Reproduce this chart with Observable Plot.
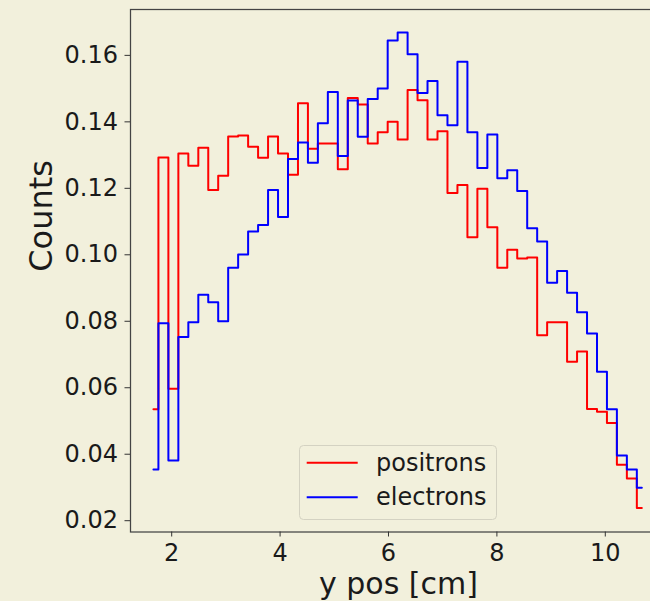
<!DOCTYPE html>
<html>
<head>
<meta charset="utf-8">
<script src="https://cdn.jsdelivr.net/npm/d3@7"></script>
<script src="https://cdn.jsdelivr.net/npm/@observablehq/plot@0.6"></script>
<style>
  html, body { margin: 0; padding: 0; background: #f2f0dc; overflow: hidden; }
  #wrap { position: relative; width: 650px; height: 601px; }
  #wrap svg.plot { display: block; }
  #legend { position: absolute; left: 0; top: 0; pointer-events: none; }
</style>
</head>
<body>
<div id="wrap"></div>
<script>
// ---- data ----
const binCenters = [1.663, 1.847, 2.031, 2.215, 2.399, 2.583, 2.766, 2.950, 3.134, 3.318,
  3.502, 3.686, 3.870, 4.054, 4.238, 4.422, 4.605, 4.789, 4.973, 5.157,
  5.341, 5.525, 5.709, 5.893, 6.077, 6.261, 6.444, 6.628, 6.812, 6.996,
  7.180, 7.364, 7.548, 7.732, 7.916, 8.100, 8.283, 8.467, 8.651, 8.835,
  9.019, 9.203, 9.387, 9.571, 9.755, 9.939, 10.122, 10.306, 10.490, 10.674];

const positrons = [0.0535, 0.1293, 0.0597, 0.1305, 0.1268, 0.1322, 0.1195, 0.1238, 0.1356, 0.1359,
  0.1325, 0.1292, 0.1356, 0.1305, 0.1241, 0.1456, 0.1319, 0.1335, 0.1335, 0.1257,
  0.1472, 0.1452, 0.1335, 0.1369, 0.1400, 0.1347, 0.1496, 0.1465, 0.1347, 0.1372,
  0.1186, 0.1210, 0.1053, 0.1199, 0.1083, 0.0961, 0.1015, 0.0989, 0.0992, 0.0758,
  0.0797, 0.0797, 0.0678, 0.0709, 0.0536, 0.0528, 0.0494, 0.0368, 0.0327, 0.0238];

const electrons = [0.0354, 0.0794, 0.0381, 0.0753, 0.0797, 0.0880, 0.0857, 0.0800, 0.0961, 0.1001,
  0.1070, 0.1090, 0.1195, 0.1114, 0.1288, 0.1338, 0.1277, 0.1396, 0.1490, 0.1297,
  0.1464, 0.1355, 0.1469, 0.1500, 0.1645, 0.1669, 0.1603, 0.1487, 0.1523, 0.1420,
  0.1390, 0.1581, 0.1369, 0.1261, 0.1362, 0.1230, 0.1254, 0.1192, 0.1080, 0.1040,
  0.0916, 0.0951, 0.0886, 0.0827, 0.0763, 0.0648, 0.0535, 0.0396, 0.0354, 0.0299];

const seriesNames = ["positrons", "electrons"];
const seriesColors = ["#ff0000", "#0000ff"];
const xTicks = [2, 4, 6, 8, 10];
const yTicks = [0.02, 0.04, 0.06, 0.08, 0.10, 0.12, 0.14, 0.16];
const xLabel = "y pos [cm]";
const yLabel = "Counts";

// ---- build table ----
const seriesValues = [positrons, electrons];
const table = [];
seriesNames.forEach((name, s) => {
  binCenters.forEach((x, i) => table.push({series: name, x, v: seriesValues[s][i]}));
});

const bg = "#f2f0dc";
const ink = "#1a1a1a";

const chart = Plot.plot({
  width: 650,
  height: 601,
  marginTop: 9,
  marginBottom: 69.5,
  marginLeft: 130,
  marginRight: -20,
  style: {background: bg, fontFamily: "DejaVu Sans", fontSize: "24px", color: ink},
  x: {domain: [1.240, 11.203]},
  y: {domain: [0.0166, 0.1738]},
  color: {domain: seriesNames, range: seriesColors},
  marks: [
    Plot.line(table, {x: "x", y: "v", z: "series", stroke: "series", curve: "step", strokeWidth: 2}),
    Plot.frame({stroke: "#444", strokeWidth: 1.25}),
    Plot.axisX({ticks: xTicks, tickSize: 5, tickPadding: 6.5, tickFormat: d => String(d),
      label: null, stroke: "#333", fill: ink, fontSize: 24}),
    Plot.axisY({ticks: yTicks, tickSize: 5.5, tickPadding: 7, tickFormat: d => d.toFixed(2),
      label: null, stroke: "#333", fill: ink, fontSize: 24}),
    Plot.text([xLabel], {frameAnchor: "bottom", lineAnchor: "bottom", dy: 62.4, dx: -2, fontSize: 30, fill: ink}),
    Plot.text([yLabel], {frameAnchor: "left", rotate: -90, lineAnchor: "top", dx: -101.7, dy: 1, fontSize: 32, fill: ink})
  ]
});

const wrap = document.getElementById("wrap");
wrap.appendChild(chart);

// ---- legend overlay (inside the axes, like the reference) ----
const ns = "http://www.w3.org/2000/svg";
const lg = document.createElementNS(ns, "svg");
lg.setAttribute("id", "legend");
lg.setAttribute("width", 650);
lg.setAttribute("height", 601);
const box = document.createElementNS(ns, "rect");
box.setAttribute("x", 299.5); box.setAttribute("y", 445.5);
box.setAttribute("width", 197); box.setAttribute("height", 74);
box.setAttribute("rx", 4); box.setAttribute("fill", bg);
box.setAttribute("stroke", "#d4d2c2"); box.setAttribute("stroke-width", 1);
lg.appendChild(box);
const rowY = [462.7, 497.3];
seriesNames.forEach((name, i) => {
  const ln = document.createElementNS(ns, "line");
  ln.setAttribute("x1", 306.7); ln.setAttribute("x2", 357.7);
  ln.setAttribute("y1", rowY[i]); ln.setAttribute("y2", rowY[i]);
  ln.setAttribute("stroke", seriesColors[i]); ln.setAttribute("stroke-width", 2);
  lg.appendChild(ln);
  const t = document.createElementNS(ns, "text");
  t.setAttribute("x", 376); t.setAttribute("y", rowY[i] + 7.8);
  t.setAttribute("font-family", "DejaVu Sans"); t.setAttribute("font-size", 24);
  t.setAttribute("fill", ink);
  t.textContent = name;
  lg.appendChild(t);
});
wrap.appendChild(lg);
</script>
</body>
</html>
